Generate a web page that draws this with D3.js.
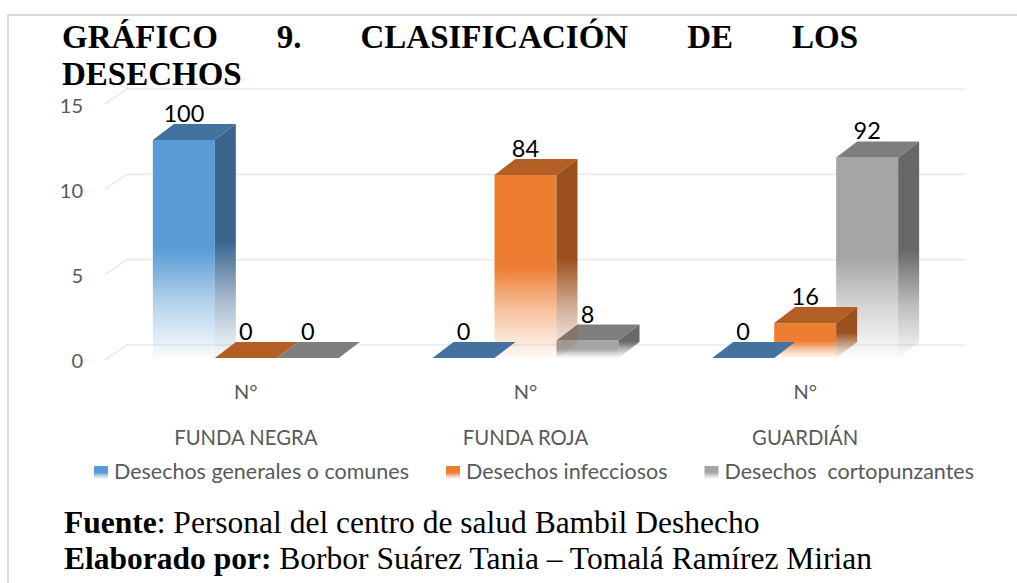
<!DOCTYPE html>
<html>
<head>
<meta charset="utf-8">
<script src="https://cdn.jsdelivr.net/npm/d3@7/dist/d3.min.js"></script>
<style>
  body { margin: 0; background: #fff; }
  svg { display: block; }
</style>
</head>
<body>
<svg id="chart" width="1017" height="583"></svg>
<script>
// ---- data ----
const categories = ["FUNDA NEGRA", "FUNDA ROJA", "GUARDIÁN"];
const axisLabel = "N°";
const seriesNames = ["Desechos generales o comunes", "Desechos infecciosos", "Desechos  cortopunzantes"];
const generales = [100, 0, 0];
const infecciosos = [0, 84, 16];
const cortopunzantes = [0, 8, 92];
const yTickValues = [0, 40, 80, 120];
const yTickLabels = ["0", "5", "10", "15"];
const titleLine1 = ["GRÁFICO", "9.", "CLASIFICACIÓN", "DE", "LOS"];
const titleLine2 = "DESECHOS";
const sourceLabel = "Fuente";
const sourceText = ": Personal del centro de salud Bambil Deshecho";
const authorLabel = "Elaborado por:";
const authorText = " Borbor Suárez Tania – Tomalá Ramírez Mirian";

// ---- styling ----
const frontColors = ["#5B9BD5", "#ED7D31", "#A5A5A5"];
const topColors = ["#44729F", "#B25E24", "#7E7E7E"];
const sideColors = ["#3A6590", "#9C501E", "#686868"];
const DX = 21, DY = -16;            // oblique depth of each column
const WALL_DX = 22, WALL_DY = -15;  // depth of the back wall
const labelFont = "Lato, 'Open Sans', sans-serif";
const textGray = "#595959";

const svg = d3.select("#chart");
svg.append("rect").attr("width", 1017).attr("height", 583).attr("fill", "#fff");

// frame
svg.append("path").attr("d", "M8,583 V15 H1017")
  .attr("fill", "none").attr("stroke", "#D9D9D9").attr("stroke-width", 2);

// gradients: solid at the top, fading out towards the floor
const defs = svg.append("defs");
function fadeGradient(id, color) {
  const g = defs.append("linearGradient").attr("id", id)
    .attr("x1", 0).attr("y1", 0).attr("x2", 0).attr("y2", 1);
  [[0, 1], [0.5, 1], [0.75, 0.45], [1, 0.03]].forEach(([o, a]) =>
    g.append("stop").attr("offset", o).attr("stop-color", color).attr("stop-opacity", a));
}
frontColors.forEach((c, i) => fadeGradient("front" + i, c));
sideColors.forEach((c, i) => fadeGradient("side" + i, c));

// ---- scales ----
const x0 = d3.scaleBand().domain(categories).range([106, 945])
  .paddingInner(0.335).paddingOuter(0.1675);
const x1 = d3.scaleBand().domain(d3.range(seriesNames.length)).range([0, x0.bandwidth()]);
const yBar = d3.scaleLinear().domain([0, 120]).range([358, 96.4]);
const yWall = d3.scaleLinear().domain([0, 120]).range([345, 89]);
const yLeft = d3.scaleLinear().domain([0, 120]).range([361, 106]);

// ---- gridlines on the back wall with their side-wall segment ----
const grid = svg.append("g");
yTickValues.forEach(t => {
  const y = yWall(t);
  grid.append("path")
    .attr("d", `M${127 - WALL_DX},${y - WALL_DY} L127,${y} L966,${y}`)
    .attr("fill", "none").attr("stroke", "#EBEBEB").attr("stroke-width", 1.6);
});

// ---- value axis ----
const yAxis = svg.append("g").attr("transform", "translate(86,0)")
  .call(d3.axisLeft(yLeft).tickValues(yTickValues).tickSize(0).tickPadding(3)
    .tickFormat((d, i) => yTickLabels[i]));
yAxis.select(".domain").remove();
yAxis.selectAll("text").attr("font-family", labelFont).attr("font-size", 20)
  .attr("fill", textGray);

// ---- category axis (two levels) ----
const cat = svg.append("g");
categories.forEach(c => {
  const cx = x0(c) + x0.bandwidth() / 2;
  cat.append("text").attr("x", cx).attr("y", 399).attr("text-anchor", "middle")
    .attr("font-family", labelFont).attr("font-size", 20).attr("fill", textGray).text(axisLabel);
  cat.append("text").attr("x", cx).attr("y", 445).attr("text-anchor", "middle")
    .attr("font-family", labelFont).attr("font-size", 20.3).attr("fill", textGray).text(c);
});

// ---- 3D columns ----
const series = [generales, infecciosos, cortopunzantes];
const bars = svg.append("g");
categories.forEach((c, ci) => {
  // right-most series first so left neighbours' side faces stay visible
  d3.range(series.length).reverse().forEach(si => {
    const v = series[si][ci];
    const x = x0(c) + x1(si), w = x1.bandwidth();
    const yb = yBar(0), yt = yBar(v);
    const g = bars.append("g");
    if (v > 0) {
      g.append("rect").attr("x", x).attr("y", yt).attr("width", w).attr("height", yb - yt)
        .attr("fill", `url(#front${si})`);
      g.append("path")
        .attr("d", `M${x + w},${yt} L${x + w + DX},${yt + DY} L${x + w + DX},${yb + DY} L${x + w},${yb} Z`)
        .attr("fill", `url(#side${si})`);
    }
    g.append("path")
      .attr("d", `M${x},${yt} L${x + w},${yt} L${x + w + DX},${yt + DY} L${x + DX},${yt + DY} Z`)
      .attr("fill", topColors[si]);
  });
});

// data labels
const labels = svg.append("g");
categories.forEach((c, ci) => {
  series.forEach((s, si) => {
    const x = x0(c) + x1(si) + x1.bandwidth() / 2;
    labels.append("text").attr("x", x).attr("y", yBar(s[ci]) + DY - 2)
      .attr("text-anchor", "middle").attr("font-family", labelFont).attr("font-size", 23.5)
      .attr("fill", "#000").text(s[ci]);
  });
});

// ---- legend ----
const legend = svg.append("g");
const legendGap = 37, swatch = 14, swatchGap = 6;
const items = seriesNames.map((name, i) => {
  const g = legend.append("g");
  g.append("rect").attr("x", 0).attr("y", 466).attr("width", swatch).attr("height", 13)
    .attr("fill", `url(#front${i})`);
  const t = g.append("text").attr("x", swatch + swatchGap).attr("y", 478.5)
    .attr("font-family", labelFont).attr("font-size", 21.5).attr("fill", textGray)
    .attr("xml:space", "preserve").style("white-space", "pre").text(name);
  return { g, w: swatch + swatchGap + t.node().getComputedTextLength() };
});
const totalW = d3.sum(items, d => d.w) + legendGap * (items.length - 1);
let lx = 534 - totalW / 2;
items.forEach(it => { it.g.attr("transform", `translate(${lx},0)`); lx += it.w + legendGap; });

// ---- title, justified across its first line ----
const serif = "'Liberation Serif', 'Times New Roman', serif";
const title = svg.append("g").attr("font-family", serif).attr("font-weight", "bold")
  .attr("font-size", 33).attr("fill", "#000");
const words = titleLine1.map(w => title.append("text").attr("y", 48).text(w));
const widths = words.map(t => t.node().getComputedTextLength());
const left = 62, right = 858;
const gap = (right - left - d3.sum(widths)) / (words.length - 1);
let tx = left;
words.forEach((t, i) => { t.attr("x", tx); tx += widths[i] + gap; });
title.append("text").attr("x", left).attr("y", 85).text(titleLine2);

// ---- source notes ----
const notes = svg.append("g").attr("font-family", serif).attr("font-size", 31.5).attr("fill", "#000");
const n1 = notes.append("text").attr("x", 64).attr("y", 533);
n1.append("tspan").attr("font-weight", "bold").text(sourceLabel);
n1.append("tspan").text(sourceText);
const n2 = notes.append("text").attr("x", 64).attr("y", 569);
n2.append("tspan").attr("font-weight", "bold").text(authorLabel);
n2.append("tspan").text(authorText);
</script>
</body>
</html>
